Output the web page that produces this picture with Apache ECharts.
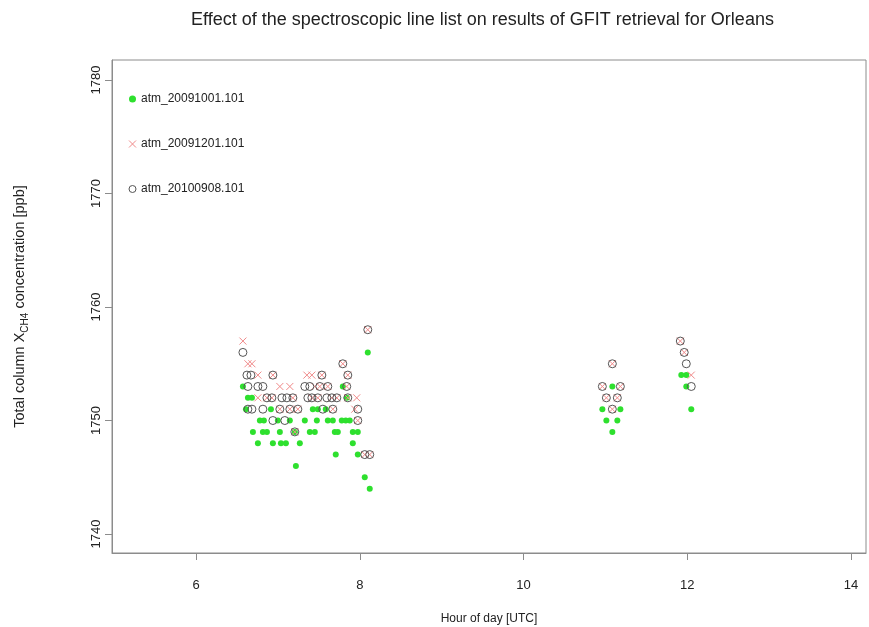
<!DOCTYPE html>
<html>
<head>
<meta charset="utf-8">
<script src="https://cdn.jsdelivr.net/npm/echarts@6/dist/echarts.min.js"></script>
<style>
  html, body { margin: 0; padding: 0; background: #fff; }
  #chart { width: 869px; height: 627px; }
</style>
</head>
<body>
<div id="chart"></div>
<script>
// XCH4 retrievals (ppb) against hour of day (UTC), one list per line list
const xTicks = [6, 8, 10, 12, 14];
const yTicks = [1740, 1750, 1760, 1770, 1780];

const seriesNames = ['atm_20091001.101', 'atm_20091201.101', 'atm_20100908.101'];

const hours20091001 = [6.573, 6.610, 6.634, 6.683, 6.695, 6.756, 6.780, 6.817, 6.829, 6.866,
  6.915, 6.939, 7.000, 7.024, 7.037, 7.098, 7.146, 7.207, 7.220, 7.268,
  7.329, 7.390, 7.427, 7.451, 7.476, 7.488, 7.585, 7.610, 7.671, 7.695,
  7.707, 7.732, 7.780, 7.793, 7.829, 7.841, 7.878, 7.915, 7.915, 7.976,
  7.976, 8.061, 8.098, 8.122,
  10.963, 11.012, 11.085, 11.085, 11.146, 11.183,
  11.927, 11.988, 11.988, 12.049];
const values20091001 = [1753, 1751, 1752, 1752, 1749, 1748, 1750, 1749, 1750, 1749,
  1751, 1748, 1750, 1749, 1748, 1748, 1750, 1749, 1746, 1748,
  1750, 1749, 1751, 1749, 1750, 1751, 1751, 1750, 1750, 1749,
  1747, 1749, 1750, 1753, 1750, 1752, 1750, 1749, 1748, 1749,
  1747, 1745, 1756, 1744,
  1751, 1750, 1753, 1749, 1750, 1751,
  1754, 1754, 1753, 1751];

const hours20091201 = [6.573, 6.634, 6.683, 6.756, 6.756, 6.866, 6.927, 6.939, 7.024, 7.024,
  7.146, 7.146, 7.183, 7.207, 7.244, 7.354, 7.415, 7.415, 7.451, 7.488,
  7.512, 7.537, 7.610, 7.659, 7.671, 7.720, 7.793, 7.841, 7.854, 7.854,
  7.939, 7.963, 7.976, 8.061, 8.098, 8.122,
  10.963, 11.012, 11.085, 11.085, 11.146, 11.183,
  11.915, 11.963, 12.049];
const values20091201 = [1757, 1755, 1755, 1754, 1752, 1752, 1752, 1754, 1753, 1751,
  1753, 1751, 1752, 1749, 1751, 1754, 1754, 1752, 1753, 1752,
  1753, 1754, 1753, 1752, 1751, 1752, 1755, 1753, 1754, 1752,
  1751, 1752, 1750, 1747, 1758, 1747,
  1753, 1752, 1755, 1751, 1752, 1753,
  1757, 1756, 1754];

const hours20100908 = [6.573, 6.622, 6.634, 6.634, 6.671, 6.683, 6.756, 6.817, 6.817, 6.866,
  6.927, 6.939, 6.939, 7.024, 7.049, 7.085, 7.110, 7.146, 7.183, 7.207,
  7.244, 7.329, 7.366, 7.390, 7.415, 7.488, 7.512, 7.537, 7.549, 7.598,
  7.610, 7.659, 7.671, 7.720, 7.793, 7.841, 7.854, 7.854, 7.976, 7.976,
  8.061, 8.098, 8.122,
  10.963, 11.012, 11.085, 11.085, 11.146, 11.183,
  11.915, 11.963, 11.988, 12.049];
const values20100908 = [1756, 1754, 1753, 1751, 1754, 1751, 1753, 1753, 1751, 1752,
  1752, 1754, 1750, 1751, 1752, 1750, 1752, 1751, 1752, 1749,
  1751, 1753, 1752, 1753, 1752, 1752, 1753, 1754, 1751, 1752,
  1753, 1752, 1751, 1752, 1755, 1753, 1754, 1752, 1751, 1750,
  1747, 1758, 1747,
  1753, 1752, 1755, 1751, 1752, 1753,
  1757, 1756, 1755, 1753];

function pairs(hours, values) {
  return hours.map((h, i) => [h, values[i]]);
}

const crossPath = 'path://M0,0L10,10M0,10L10,0';
const frame = '#8c8c8c';
const ink = '#222';
const font = 'Liberation Sans, Arial, Helvetica, sans-serif';

const chart = echarts.init(document.getElementById('chart'), null, { renderer: 'canvas' });

chart.setOption({
  backgroundColor: '#fff',
  animation: false,
  title: {
    text: 'Effect of the spectroscopic line list on results of GFIT retrieval for Orleans',
    left: 191,
    top: 11,
    padding: 0,
    textStyle: { fontFamily: font, fontSize: 18, fontWeight: 'normal', color: ink }
  },
  legend: {
    orient: 'vertical',
    left: 123.5,
    top: 88,
    itemWidth: 7,
    itemHeight: 7,
    itemGap: 33,
    textStyle: { fontFamily: font, fontSize: 12, color: ink },
    data: [
      { name: seriesNames[0], icon: 'circle',
        itemStyle: { color: '#2ee02e', borderWidth: 0 } },
      { name: seriesNames[1], icon: crossPath,
        itemStyle: { color: 'rgba(0,0,0,0)', borderColor: '#f08a8a', borderWidth: 1 } },
      { name: seriesNames[2], icon: 'circle',
        itemStyle: { color: 'rgba(0,0,0,0)', borderColor: '#555', borderWidth: 1 } }
    ]
  },
  grid: {
    left: 112, top: 60, right: 3, bottom: 74,
    outerBoundsMode: 'none',
    containLabel: false,
    show: true, borderColor: frame, borderWidth: 1, backgroundColor: '#fff'
  },
  xAxis: {
    type: 'value',
    min: 4.974,
    max: 14.183,
    splitLine: { show: false },
    axisLine: { show: true, lineStyle: { color: frame } },
    axisTick: { show: true, length: 7, lineStyle: { color: frame }, customValues: xTicks },
    axisLabel: { customValues: xTicks, margin: 26, fontFamily: font, fontSize: 13, color: ink },
    name: 'Hour of day [UTC]',
    nameLocation: 'middle',
    nameGap: 60,
    nameTextStyle: { fontFamily: font, fontSize: 12, color: ink }
  },
  yAxis: {
    type: 'value',
    min: 1738.33,
    max: 1781.76,
    splitLine: { show: false },
    axisLine: { show: true, lineStyle: { color: frame } },
    axisTick: { show: true, length: 7, lineStyle: { color: frame }, customValues: yTicks },
    axisLabel: {
      customValues: yTicks, rotate: 90, margin: 9,
      formatter: (v) => String(v),
      fontFamily: font, fontSize: 13, color: ink
    },
    name: '{t|Total column X}{s|CH4}{t| concentration [ppb]}',
    nameLocation: 'middle',
    nameRotate: 90,
    nameGap: 82,
    nameTextStyle: {
      fontFamily: font, color: ink,
      rich: {
        t: { fontFamily: font, fontSize: 14.5, color: ink, lineHeight: 20, verticalAlign: 'middle' },
        s: { fontFamily: font, fontSize: 10, color: ink, lineHeight: 11, verticalAlign: 'bottom' }
      }
    }
  },
  series: [
    {
      name: seriesNames[0],
      type: 'scatter',
      symbol: 'circle',
      symbolSize: 6,
      itemStyle: { color: '#2ee02e', opacity: 1 },
      data: pairs(hours20091001, values20091001),
      z: 2
    },
    {
      name: seriesNames[1],
      type: 'scatter',
      symbol: crossPath,
      symbolSize: 7,
      itemStyle: { color: 'rgba(0,0,0,0)', borderColor: '#f08a8a', borderWidth: 1, opacity: 1 },
      data: pairs(hours20091201, values20091201),
      z: 3
    },
    {
      name: seriesNames[2],
      type: 'scatter',
      symbol: 'circle',
      symbolSize: 8,
      itemStyle: { color: 'rgba(0,0,0,0)', borderColor: '#555', borderWidth: 1, opacity: 1 },
      data: pairs(hours20100908, values20100908),
      z: 4
    }
  ]
});
</script>
</body>
</html>
